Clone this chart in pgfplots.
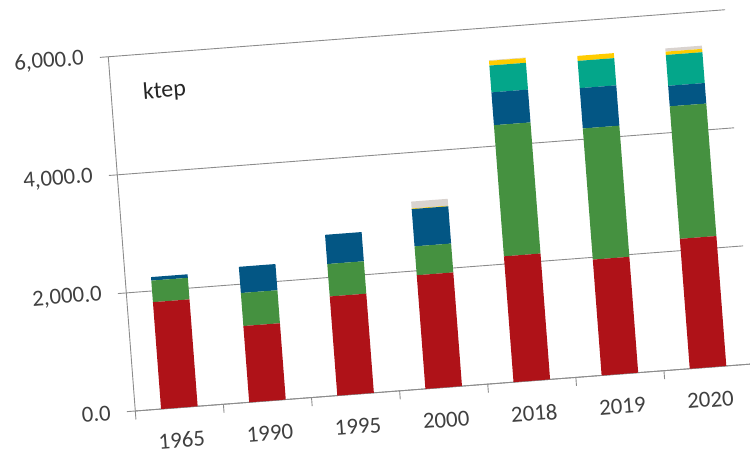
\documentclass[border=0pt]{standalone}
\usepackage{pgfplots}
\pgfplotsset{compat=1.18}
\usepackage{fontspec}
\setmainfont{Carlito}
\definecolor{cRed}{HTML}{AF1218}
\definecolor{cGreen}{HTML}{459140}
\definecolor{cBlue}{HTML}{035684}
\definecolor{cTeal}{HTML}{04A68A}
\definecolor{cYellow}{HTML}{FFCC00}
\definecolor{cGray}{HTML}{D9D3CF}
\definecolor{gridgray}{HTML}{8C8C8C}
\definecolor{tickgray}{HTML}{404040}
\definecolor{ktepcol}{HTML}{262626}
\begin{document}
\begin{tikzpicture}
\begin{scope}[shift={(135.3bp,41bp)}, rotate=4.36, transform shape]
\begin{axis}[
  at={(0bp,0bp)}, anchor=south west,
  width=618.6bp, height=355.3bp, scale only axis,
  ybar stacked, bar width=0.415,
  xmin=-0.5, xmax=6.5, ymin=0, ymax=6000,
  xtick={-0.5,0.5,...,6.5}, x tick label as interval,
  xticklabels={1965,1990,1995,2000,2018,2019,2020},
  ytick={0,2000,4000,6000},
  yticklabels={{0.0},{2,000.0},{4,000.0},{6,000.0}},
  axis x line*=bottom, axis y line*=left,
  tick align=outside, major tick length=8.5bp,
  ymajorgrids, grid style={draw=gridgray, line width=0.9bp},
  axis line style={draw=gridgray, line width=0.9bp, -},
  tick style={draw=gridgray, line width=0.9bp},
  ticklabel style={font=\fontsize{23}{27}\selectfont, text=tickgray},
  xticklabel style={anchor=center, yshift=-24bp},
  yticklabel style={anchor=east, inner sep=0pt, xshift=-16bp},
  every axis plot/.append style={draw=none},
]
\addplot[fill=cRed] coordinates {(0,1810) (1,1292) (2,1679) (3,1925) (4,2131) (5,1962) (6,2200)};
\addplot[fill=cGreen] coordinates {(0,365) (1,559) (2,549) (3,489) (4,2221) (5,2221) (6,2244)};
\addplot[fill=cBlue] coordinates {(0,60) (1,444) (2,495) (3,631) (4,556) (5,683) (6,348)};
\addplot[fill=cTeal] coordinates {(0,0) (1,0) (2,0) (3,0) (4,454) (5,461) (6,522)};
\addplot[fill=cYellow] coordinates {(0,0) (1,0) (2,0) (3,10) (4,80) (5,85) (6,56)};
\addplot[fill=cGray] coordinates {(0,0) (1,0) (2,0) (3,117) (4,10) (5,0) (6,55)};
\node[font=\fontsize{24}{28}\selectfont, text=ktepcol] at (axis cs:0.104,5350) {ktep};
\end{axis}
\end{scope}
\pgfresetboundingbox
\path[use as bounding box] (0bp,0bp) rectangle (750bp,452bp);
\end{tikzpicture}
\end{document}
